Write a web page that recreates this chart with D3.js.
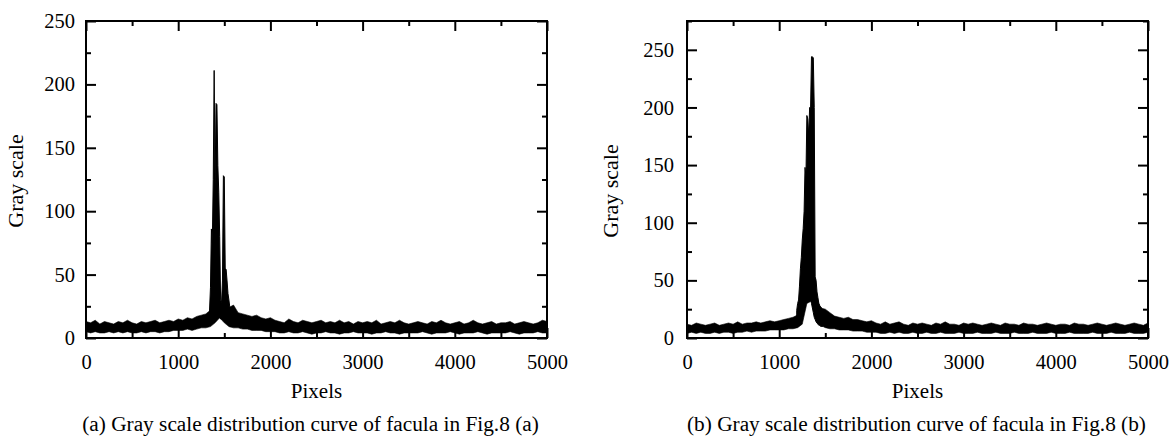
<!DOCTYPE html>
<html>
<head>
<meta charset="utf-8">
<script src="https://cdn.jsdelivr.net/npm/d3@7"></script>
<style>
  body { margin: 0; background: #fff; }
</style>
</head>
<body>
<div id="chart"></div>
<script>
const serif = "'Liberation Serif', 'DejaVu Serif', 'Times New Roman', serif";

// x positions of the envelope samples (pixels, step 50)
const samplePixels = d3.range(0, 5001, 50);

// panel (a): lower / upper edge of the noisy trace
const loA = [5,4,5,4,4,5,4,5,4,5,4,4,5,4,5,5,4,5,5,6,6,
  6,7,6,7,8,8,
  9,12,16,12,9,
  8,8,7,7,6,6,6,5,5,
  5,4,4,5,4,4,5,4,3,4, 4,5,4,4,3,4,4,5,4,4, 4,3,4,4,5,4,4,3,4,4,
  4,4,5,4,3,4,4,4,5,4, 3,4,4,4,5,4,3,4,4,4, 4,5,4,3,4,4,4,5,4,4];
const hiA = [13,12,14,11,13,12,11,13,12,14,12,11,13,12,13,14,12,13,14,13,15,
  14,16,15,17,18,19,
  22,24,25,24,24,
  26,20,19,18,17,18,16,15,16,
  14,13,12,15,13,12,14,13,12,13, 14,12,13,12,14,12,13,11,13,12, 13,12,14,11,12,13,12,14,12,11,
  12,13,12,11,13,12,14,12,11,12, 13,11,12,14,12,11,12,13,11,12, 12,13,11,12,13,12,11,12,14,13];
// panel (a): the bright spot
const peakXA  = [1340,1350,1360,1370,1380,1390,1400,1410,1420,1430,1440,1450,1460,1470,1480,1490,1500,1510,1520,1530,1540,1550,1560,1570];
const peakHiA = [22,40,86,75,125,211,120,185,184,136,115,80,30,28,45,128,127,55,54,45,35,30,24,22];
const peakLoA = [10,12,14,14,15,16,16,18,18,18,18,16,15,15,15,16,16,14,13,12,11,10,9,9];

// panel (b)
const loB = [4,5,4,5,4,4,5,4,5,5,4,5,5,6,5,6,6,6,7,7,7,
  7,8,8,9,12,
  30,32,16,11,
  9,8,8,7,7,7,6,6,6,5,5,
  5,4,4,5,4,5,4,4,5,4, 4,5,4,4,5,4,4,4,5,4, 4,4,5,4,4,4,5,4,4,4,
  5,4,4,4,5,4,4,4,5,4, 4,4,5,4,4,4,4,5,4,4, 4,5,4,4,4,5,4,4,4,5];
const hiB = [12,11,13,12,11,12,13,11,12,13,12,14,12,13,13,14,13,14,15,14,15,
  16,17,18,20,26,
  40,40,35,26,
  25,22,19,18,17,18,16,16,15,14,15,
  13,12,14,12,13,14,12,11,13,12, 13,12,11,13,12,14,12,12,11,13, 12,13,12,11,12,13,12,11,13,12,
  12,11,13,12,12,11,12,13,12,11, 12,12,11,13,12,12,11,12,13,12, 11,12,13,12,11,12,13,12,11,13];
const peakXB  = [1190,1200,1210,1220,1230,1240,1250,1260,1270,1280,1290,1300,1310,1320,1330,1340,1350,1360,1370,1380,1390,1400,1410,1420,1430,1440,1450,1460,1470];
const peakHiB = [24,30,33,45,60,70,85,95,110,148,140,193,190,176,200,198,244,244,243,200,53,50,40,35,30,28,27,26,22];
const peakLoB = [10,11,12,13,15,17,19,21,24,27,30,33,35,36,36,34,30,26,22,18,16,14,13,12,11,11,10,10,10];

const xTicks = [0, 1000, 2000, 3000, 4000, 5000];
const xMinor = [500, 1500, 2500, 3500, 4500];
const yTicks = [0, 50, 100, 150, 200, 250];

const panels = [
  { left: 86, right: 547, yMax: 250, yMinor: [25, 75, 125, 175, 225], yPad: 11, yLabelX: 23, yLabelY: 181, lo: loA, hi: hiA,
    peakX: peakXA, peakHi: peakHiA, peakLo: peakLoA, captionShift: -6,
    caption: "(a) Gray scale distribution curve of facula in Fig.8 (a)" },
  { left: 687, right: 1148, yMax: 275, yMinor: [25, 75, 125, 175, 225, 275], yPad: 13, yLabelX: 618, yLabelY: 191, lo: loB, hi: hiB,
    peakX: peakXB, peakHi: peakHiB, peakLo: peakLoB, captionShift: -1,
    caption: "(b) Gray scale distribution curve of facula in Fig.8 (b)" }
];

const width = 1170, height = 436;
const plotTop = 21, plotBottom = 338;

const svg = d3.select("#chart").append("svg")
  .attr("width", width)
  .attr("height", height)
  .style("font-family", serif);

panels.forEach((p, i) => {
  const x = d3.scaleLinear().domain([0, 5000]).range([p.left, p.right]);
  const y = d3.scaleLinear().domain([0, p.yMax]).range([plotBottom, plotTop]);
  const g = svg.append("g");

  const clipId = "clip" + i;
  g.append("clipPath").attr("id", clipId)
    .append("rect")
    .attr("x", p.left).attr("y", plotTop)
    .attr("width", p.right - p.left).attr("height", plotBottom - plotTop);

  const plot = g.append("g").attr("clip-path", `url(#${clipId})`);

  // шумовая полоса
  const band = samplePixels.map((px, k) => ({ x: px, lo: p.lo[k], hi: p.hi[k] }));
  plot.append("path")
    .datum(band)
    .attr("fill", "#000")
    .attr("stroke", "#000")
    .attr("stroke-width", 0.6)
    .attr("d", d3.area().x(d => x(d.x)).y0(d => y(d.lo)).y1(d => y(d.hi)));

  // пик
  const peak = p.peakX.map((px, k) => ({ x: px, lo: p.peakLo[k], hi: p.peakHi[k] }));
  plot.append("path")
    .datum(peak)
    .attr("fill", "#000")
    .attr("stroke", "#000")
    .attr("stroke-width", 1)
    .attr("d", d3.area().x(d => x(d.x)).y0(d => y(d.lo)).y1(d => y(d.hi)));

  // оси, засечки внутрь со всех сторон
  const styleAxis = sel => {
    sel.attr("font-family", null);
    sel.select(".domain").remove();
    sel.selectAll("line").attr("stroke", "#000").attr("stroke-width", 2);
    sel.selectAll("text")
      .style("font-family", serif)
      .style("font-size", "20.5px")
      .attr("fill", "#000");
  };

  g.append("g").attr("transform", `translate(0,${plotBottom})`)
    .call(d3.axisBottom(x).tickValues(xTicks).tickSize(-10).tickPadding(16).tickFormat(d3.format("d")))
    .call(styleAxis);
  g.append("g").attr("transform", `translate(0,${plotBottom})`)
    .call(d3.axisBottom(x).tickValues(xMinor).tickSize(-5).tickFormat(""))
    .call(styleAxis);
  g.append("g").attr("transform", `translate(0,${plotTop})`)
    .call(d3.axisTop(x).tickValues(xTicks).tickSize(-10).tickFormat(""))
    .call(styleAxis);
  g.append("g").attr("transform", `translate(0,${plotTop})`)
    .call(d3.axisTop(x).tickValues(xMinor).tickSize(-5).tickFormat(""))
    .call(styleAxis);

  g.append("g").attr("transform", `translate(${p.left},0)`)
    .call(d3.axisLeft(y).tickValues(yTicks).tickSize(-10).tickPadding(p.yPad).tickFormat(d3.format("d")))
    .call(styleAxis);
  g.append("g").attr("transform", `translate(${p.left},0)`)
    .call(d3.axisLeft(y).tickValues(p.yMinor).tickSize(-5).tickFormat(""))
    .call(styleAxis);
  g.append("g").attr("transform", `translate(${p.right},0)`)
    .call(d3.axisRight(y).tickValues(yTicks).tickSize(-10).tickFormat(""))
    .call(styleAxis);
  g.append("g").attr("transform", `translate(${p.right},0)`)
    .call(d3.axisRight(y).tickValues(p.yMinor).tickSize(-5).tickFormat(""))
    .call(styleAxis);

  // рамка
  g.append("rect")
    .attr("x", p.left).attr("y", plotTop)
    .attr("width", p.right - p.left).attr("height", plotBottom - plotTop)
    .attr("fill", "none")
    .attr("stroke", "#000")
    .attr("stroke-width", 2);

  // подписи
  const cx = (p.left + p.right) / 2;
  g.append("text")
    .attr("x", cx).attr("y", 398)
    .attr("text-anchor", "middle")
    .style("font-family", serif)
    .style("font-size", "21px")
    .text("Pixels");

  g.append("text")
    .attr("transform", `translate(${p.yLabelX},${p.yLabelY}) rotate(-90)`)
    .attr("text-anchor", "middle")
    .style("font-family", serif)
    .style("font-size", "22px")
    .text("Gray scale");

  g.append("text")
    .attr("x", cx + p.captionShift).attr("y", 431)
    .attr("text-anchor", "middle")
    .style("font-family", serif)
    .style("font-size", "21.3px")
    .text(p.caption);
});
</script>
</body>
</html>
